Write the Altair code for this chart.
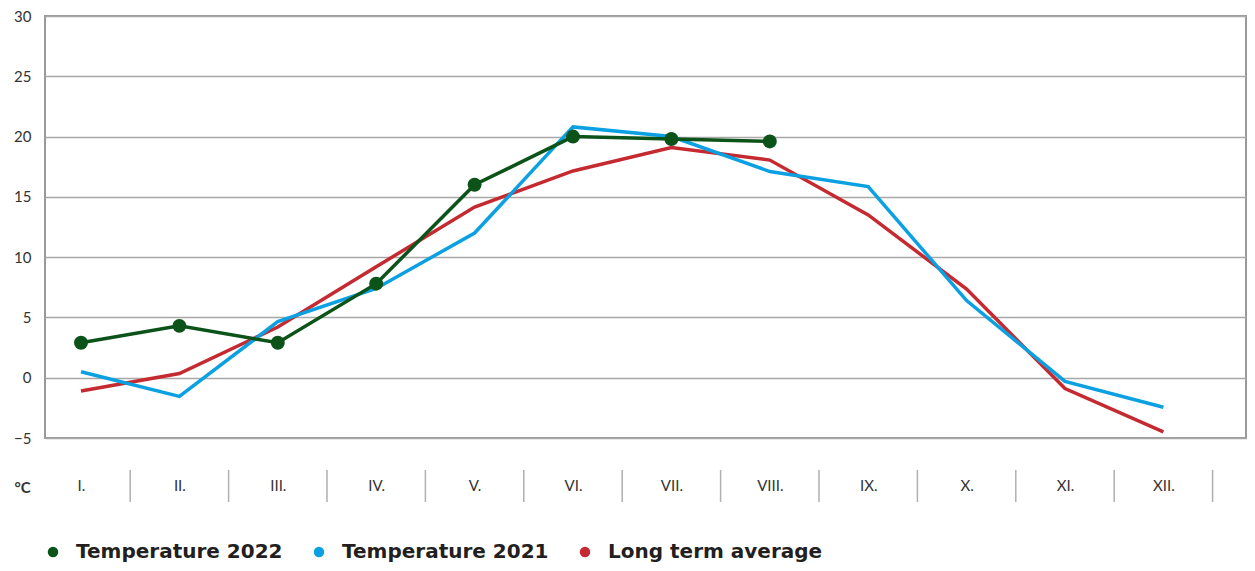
import altair as alt
import pandas as pd

months = ["I.", "II.", "III.", "IV.", "V.", "VI.", "VII.", "VIII.", "IX.", "X.", "XI.", "XII."]
series_names = ["Temperature 2022", "Temperature 2021", "Long term average"]
series_colors = ["#0b5319", "#0aa0e2", "#c42a30"]

t2022 = [2.9, 4.3, 2.9, 7.8, 16.0, 20.0, 19.8, 19.6]
t2021 = [0.5, -1.55, 4.65, 7.4, 12.0, 20.8, 20.0, 17.1, 15.85, 6.4, -0.3, -2.45]
avg = [-1.1, 0.35, 4.2, 9.2, 14.15, 17.15, 19.1, 18.05, 13.5, 7.35, -0.9, -4.5]

rows = []
for name, vals in zip(series_names, [t2022, t2021, avg]):
    for m, v in zip(months, vals):
        rows.append({"month": m, "series": name, "value": v})
df = pd.DataFrame(rows)
sep_df = pd.DataFrame({"month": months})

W, H = 1201, 422
FONT = "Lato"
LEGEND_FONT = "DejaVu Sans"

xscale = alt.Scale(type="point", domain=months, padding=0.6026, align=0.3035)
yscale = alt.Scale(domain=[-5, 30], nice=False, zero=False)
cscale = alt.Scale(domain=series_names, range=series_colors)
# same mapping, listed in reverse so the (hidden) stroke legend is not merged with the color legend
sscale = alt.Scale(domain=series_names[::-1], range=series_colors[::-1])

x_enc = alt.X("month:O", scale=xscale, sort=months,
              axis=alt.Axis(title=None, labelAngle=0, ticks=False, domain=False,
                            grid=False, labelPadding=40, labelFontSize=15,
                            labelColor="#333333", labelFont=FONT))
y_enc = alt.Y("value:Q", scale=yscale,
              axis=alt.Axis(values=[-5, 0, 5, 10, 15, 20, 25, 30], ticks=False,
                            domain=False, labelPadding=14, labelFontSize=15,
                            labelColor="#333333", labelFont=FONT,
                            gridColor="#a8a8a8", gridWidth=1.5,
                            title="°C", titleAngle=0, titleX=-23, titleY=471,
                            titleAlign="center", titleBaseline="middle",
                            titleFontSize=15, titleFont=FONT, titleFontWeight="bold",
                            titleColor="#333333"))

def line_layer(name):
    return alt.Chart(df).transform_filter(alt.datum.series == name).mark_line(
        strokeWidth=3.5
    ).encode(
        x=x_enc, y=y_enc,
        stroke=alt.Stroke("series:N", scale=sscale, legend=None),
    )

red = line_layer("Long term average")
blue = line_layer("Temperature 2021")
green = line_layer("Temperature 2022")

dots = alt.Chart(df).transform_filter(alt.datum.series == "Temperature 2022").mark_point(
    filled=True, size=195, opacity=1
).encode(
    x=x_enc, y=y_enc,
    color=alt.Color("series:N", scale=cscale,
                    legend=alt.Legend(title=None, orient="none", legendX=-2, legendY=526,
                                      direction="horizontal", symbolType="circle",
                                      symbolSize=110, symbolStrokeWidth=0,
                                      labelFont=LEGEND_FONT, labelFontSize=20, labelLimit=500,
                                      labelFontWeight="bold", labelColor="#231f20",
                                      labelOffset=13, columnPadding=26, padding=0)),
)

seps = alt.Chart(sep_df).mark_rule(color="#b0b0b0", strokeWidth=1.5, xOffset=49.2).encode(
    x=alt.X("month:O", scale=xscale, sort=months),
    y=alt.value(H + 32), y2=alt.value(H + 64),
)

chart = alt.layer(red, blue, green, dots, seps).properties(
    width=W, height=H,
    autosize=alt.AutoSizeParams(type="none"),
    padding={"left": 37, "top": 8, "right": 1, "bottom": 125},
).configure_view(stroke="#9a9a9a", strokeWidth=2)

chart.save("out.html", embed_options={"renderer": "svg", "actions": False})
